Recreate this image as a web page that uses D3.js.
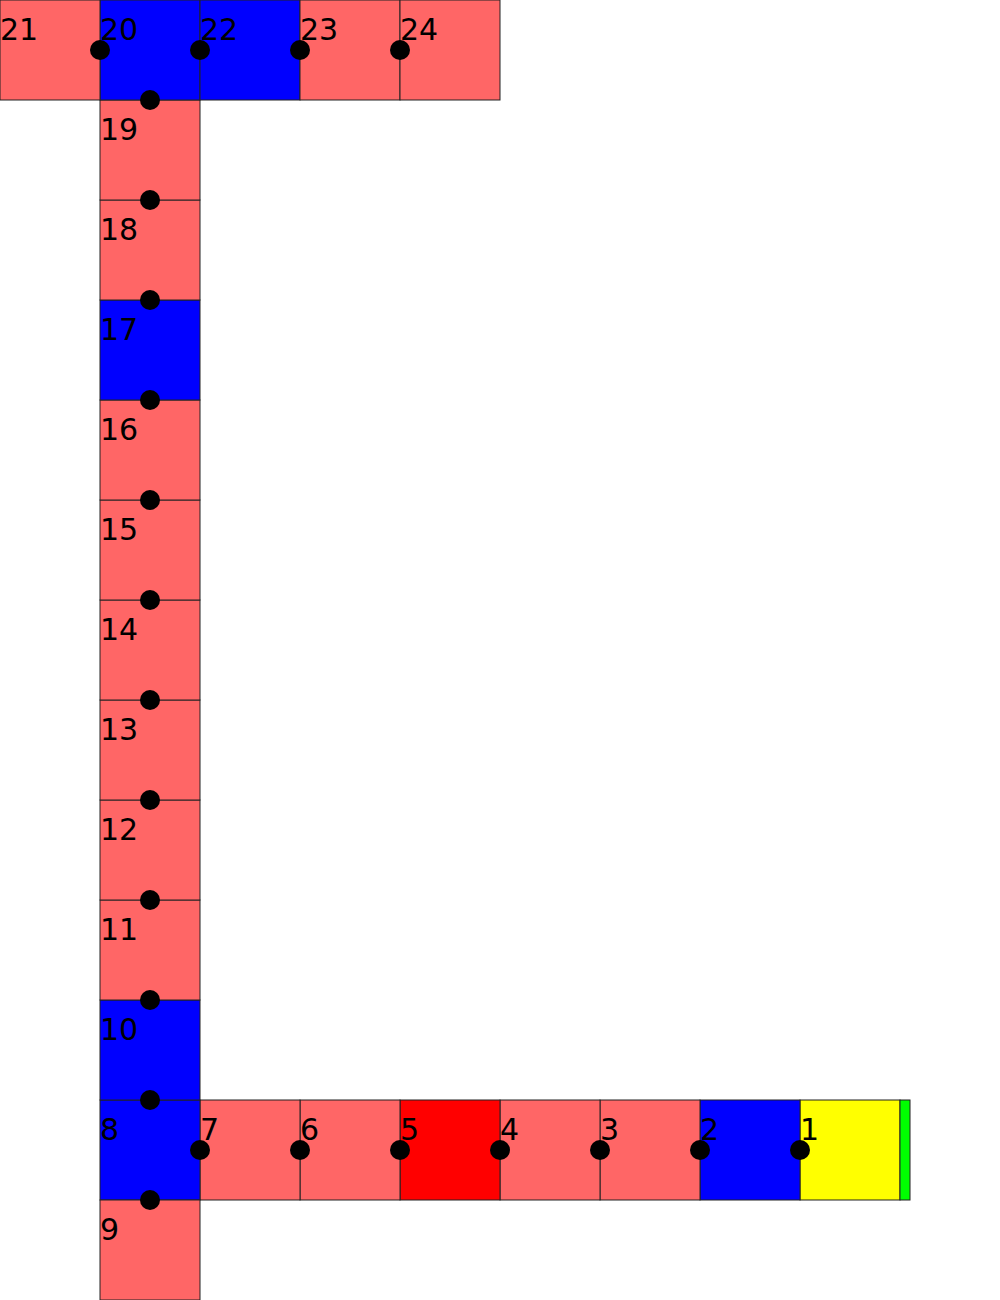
<!DOCTYPE html>
<html lang="en">
<head>
    <meta charset="utf-8">
    <title>Cell Path</title>
    <script src="https://d3js.org/d3.v7.min.js"></script>
    <style>
        body { margin: 0; background: white; }
        .cell-label { font-family: "DejaVu Sans", sans-serif; font-size: 30px; fill: black; }
    </style>
</head>
<body>
    <div id="chart"></div>
    <script>
        // cell ids, grid column / row, fill kind, and which edge carries the dot
        var cellIds  = [1, 2, 3, 4, 5, 6, 7, 8, 9, 10, 11, 12, 13, 14, 15, 16, 17, 18, 19, 20, 21, 22, 23, 24];
        var cellCols = [8, 7, 6, 5, 4, 3, 2, 1, 1, 1, 1, 1, 1, 1, 1, 1, 1, 1, 1, 1, 0, 2, 3, 4];
        var cellRows = [11, 11, 11, 11, 11, 11, 11, 11, 12, 10, 9, 8, 7, 6, 5, 4, 3, 2, 1, 0, 0, 0, 0, 0];
        var cellKind = ["yellow", "blue", "salmon", "salmon", "red", "salmon", "salmon", "blue", "salmon", "blue",
                        "salmon", "salmon", "salmon", "salmon", "salmon", "salmon", "blue", "salmon", "salmon", "blue",
                        "salmon", "blue", "salmon", "salmon"];
        var dotSide  = ["left", "left", "left", "left", "left", "left", "left", "top", "top", "top",
                        "top", "top", "top", "top", "top", "top", "top", "top", "top", "left",
                        null, "left", "left", "left"];

        // thin end marker to the right of cell 1
        var markerCol = 9, markerRow = 11, markerWidth = 0.1;

        var kindColor = {
            salmon: "#ff6666",
            blue: "#0000ff",
            red: "#ff0000",
            yellow: "#ffff00",
            green: "#00ff00"
        };

        var width = 1000, height = 1300;

        var x = d3.scaleLinear().domain([0, 10]).range([0, width]);
        var y = d3.scaleLinear().domain([0, 13]).range([0, height]);

        var cells = cellIds.map(function(id, i) {
            return { id: id, col: cellCols[i], row: cellRows[i], kind: cellKind[i], side: dotSide[i] };
        });

        var svg = d3.select("#chart").append("svg")
            .attr("width", width)
            .attr("height", height);

        svg.append("g").selectAll("rect")
            .data(cells)
            .join("rect")
            .attr("x", function(d) { return x(d.col); })
            .attr("y", function(d) { return y(d.row); })
            .attr("width", x(1) - x(0))
            .attr("height", y(1) - y(0))
            .attr("fill", function(d) { return kindColor[d.kind]; })
            .attr("stroke", "#222")
            .attr("stroke-width", 1);

        svg.append("rect")
            .attr("x", x(markerCol))
            .attr("y", y(markerRow))
            .attr("width", x(markerWidth) - x(0))
            .attr("height", y(1) - y(0))
            .attr("fill", kindColor.green)
            .attr("stroke", "#222")
            .attr("stroke-width", 1);

        svg.append("g").selectAll("text")
            .data(cells)
            .join("text")
            .attr("class", "cell-label")
            .attr("x", function(d) { return x(d.col); })
            .attr("y", function(d) { return y(d.row + 0.4); })
            .text(function(d) { return d.id; });

        svg.append("g").selectAll("circle")
            .data(cells.filter(function(d) { return d.side; }))
            .join("circle")
            .attr("cx", function(d) { return d.side === "left" ? x(d.col) : x(d.col + 0.5); })
            .attr("cy", function(d) { return d.side === "left" ? y(d.row + 0.5) : y(d.row); })
            .attr("r", 10)
            .attr("fill", "black");
    </script>
</body>
</html>
